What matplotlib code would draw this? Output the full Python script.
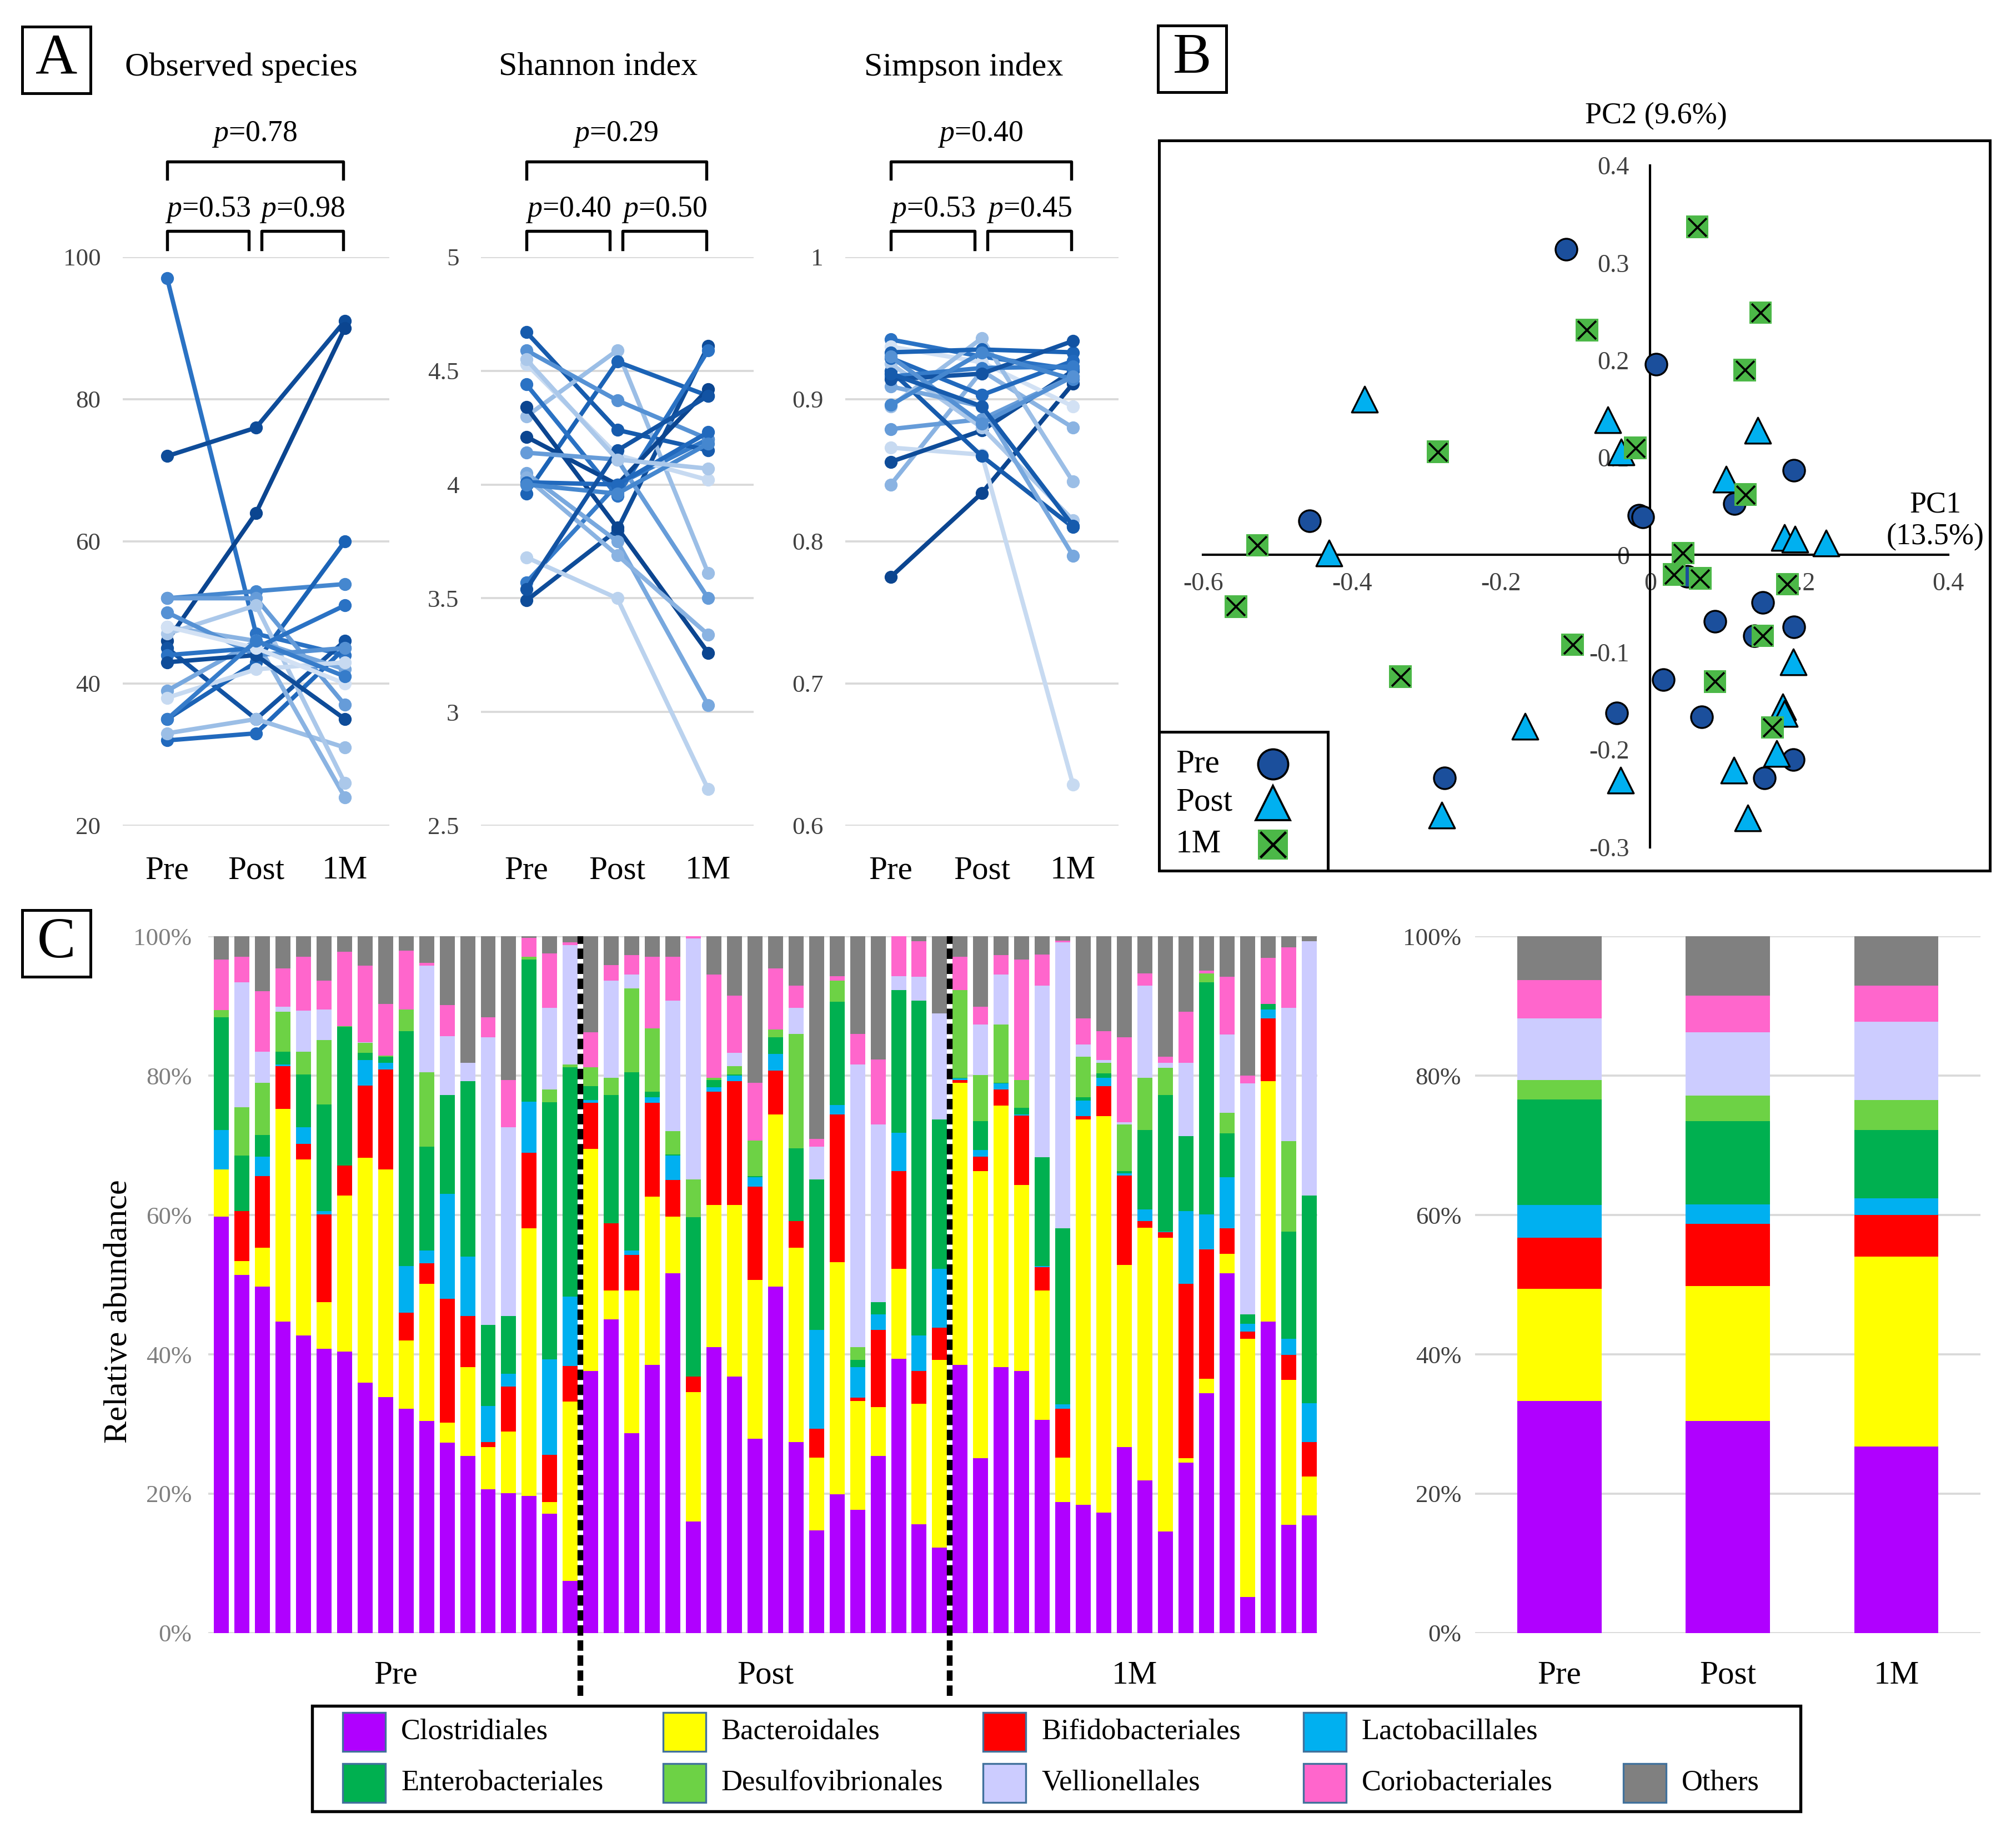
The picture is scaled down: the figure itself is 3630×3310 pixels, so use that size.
import numpy as np
import matplotlib.pyplot as plt
from matplotlib.patches import Rectangle
from matplotlib.transforms import blended_transform_factory as blend

plt.rcParams['font.family'] = ['Liberation Serif', 'DejaVu Serif']
plt.rcParams['mathtext.fontset'] = 'custom'
plt.rcParams['mathtext.rm'] = 'Liberation Serif'
plt.rcParams['mathtext.it'] = 'Liberation Serif:italic'

# ---------------- data ----------------
timepoints = ['Pre', 'Post', '1M']

# panel A: per-subject alpha diversity (Pre, Post, 1M)
obs_pre = [97, 72, 46, 45, 52, 35, 32, 33, 52, 48, 47, 39, 38, 50, 44, 43, 48, 35]
obs_post = [47, 76, 64, 35, 53, 43, 33, 35, 52, 46, 51, 46, 42, 44, 45, 44, 45, 46]
obs_1m = [44, 91, 90, 46, 54, 60, 45, 31, 37, 24, 26, 42, 43, 45, 51, 35, 40, 41]

sha_pre = [3.49, 3.57, 3.68, 4.67, 4.30, 3.96, 4.59, 4.53, 4.44, 4.34, 4.21, 4.05, 4.03, 4.14, 4.01, 4.00, 3.54, 4.55]
sha_post = [3.80, 4.00, 3.50, 4.24, 4.59, 4.54, 4.37, 4.13, 3.95, 3.81, 4.00, 3.75, 3.69, 4.11, 4.00, 3.96, 4.15, 4.11]
sha_1m = [4.61, 4.20, 2.66, 4.15, 3.61, 4.39, 4.20, 4.02, 4.59, 3.26, 4.42, 3.03, 3.34, 3.50, 4.23, 4.18, 4.39, 4.07]

sim_pre = [0.775, 0.840, 0.866, 0.856, 0.879, 0.942, 0.937, 0.920, 0.925, 0.909, 0.895, 0.933, 0.929, 0.916, 0.914, 0.896, 0.930, 0.918]
sim_post = [0.834, 0.920, 0.861, 0.878, 0.886, 0.930, 0.926, 0.860, 0.880, 0.895, 0.943, 0.935, 0.903, 0.922, 0.918, 0.933, 0.883, 0.895]
sim_1m = [0.911, 0.880, 0.629, 0.920, 0.916, 0.921, 0.895, 0.810, 0.815, 0.790, 0.842, 0.933, 0.927, 0.923, 0.941, 0.914, 0.916, 0.811]

obs_p = ['0.53', '0.98', '0.78']
sha_p = ['0.40', '0.50', '0.29']
sim_p = ['0.53', '0.45', '0.40']

# panel B: PCoA coordinates
pre_pc1 = [-0.113, 0.008, 0.193, 0.113, -0.015, -0.457, 0.151, 0.087, 0.193, 0.140, 0.018, -0.045, 0.069, 0.192, 0.153, -0.276, -0.010, 0.050]
pre_pc2 = [0.314, 0.196, 0.087, 0.053, 0.041, 0.035, -0.049, -0.068, -0.074, -0.083, -0.128, -0.162, -0.166, -0.210, -0.229, -0.229, 0.039, -0.022]
post_pc1 = [-0.383, -0.057, -0.039, 0.144, 0.102, -0.431, 0.180, 0.194, 0.236, 0.192, 0.178, 0.180, -0.168, 0.170, -0.040, 0.112, -0.280, 0.131]
post_pc2 = [0.160, 0.139, 0.106, 0.128, 0.078, 0.002, 0.018, 0.016, 0.012, -0.110, -0.156, -0.163, -0.176, -0.204, -0.231, -0.221, -0.267, -0.270]
m1_pc1 = [0.063, 0.148, -0.085, 0.127, -0.020, -0.285, 0.128, -0.527, 0.044, 0.032, 0.067, 0.184, -0.556, 0.151, -0.104, -0.335, 0.087, 0.164]
m1_pc2 = [0.337, 0.249, 0.231, 0.190, 0.110, 0.106, 0.062, 0.010, 0.002, -0.020, -0.024, -0.030, -0.053, -0.083, -0.092, -0.125, -0.130, -0.177]

# panel C: cumulative top (%) of each order per sample (18 Pre, 18 Post, 18 1M)
taxa = ['Clostridiales', 'Bacteroidales', 'Bifidobacteriales', 'Lactobacillales', 'Enterobacteriales',
        'Desulfovibrionales', 'Vellionellales', 'Coriobacteriales', 'Others']
clos_top = [59.8, 51.4, 49.7, 44.7, 42.7, 40.8, 40.4, 35.9, 33.9, 32.2, 30.4, 27.3, 25.4, 20.6, 20.1, 19.7, 17.1, 7.5,
            37.6, 45.0, 28.7, 38.5, 51.6, 16.0, 41.0, 36.8, 27.9, 49.7, 27.4, 14.7, 19.9, 17.7, 25.4, 39.4, 15.6, 12.3,
            38.5, 25.1, 38.2, 37.6, 30.6, 18.8, 18.4, 17.3, 26.7, 21.9, 14.6, 24.5, 34.4, 51.6, 5.2, 44.7, 15.5, 16.9]
bact_top = [66.5, 53.4, 55.3, 75.2, 68.0, 47.5, 62.8, 68.2, 66.5, 42.0, 50.1, 30.2, 38.2, 26.7, 28.9, 58.1, 18.8, 33.2,
            69.5, 49.2, 49.2, 62.6, 59.8, 34.6, 61.4, 61.4, 50.7, 74.4, 55.3, 25.2, 53.2, 33.3, 32.4, 52.3, 32.9, 39.2,
            79.0, 66.3, 75.7, 64.3, 49.2, 25.2, 73.7, 74.2, 52.8, 58.2, 56.7, 25.1, 36.5, 54.4, 42.2, 79.2, 36.3, 22.5]
bifi_top = [66.5, 60.6, 65.6, 81.4, 70.2, 60.1, 67.1, 78.6, 80.9, 46.0, 53.1, 48.0, 45.5, 27.4, 35.4, 68.9, 25.6, 38.3,
            76.1, 58.8, 54.3, 76.1, 65.0, 36.8, 77.7, 79.2, 64.1, 80.7, 59.1, 29.3, 74.4, 33.8, 43.5, 66.3, 37.6, 43.8,
            79.4, 68.4, 78.0, 74.3, 52.5, 32.2, 74.2, 78.5, 65.7, 59.1, 57.5, 50.1, 55.1, 58.1, 43.3, 88.2, 39.9, 27.4]
lacto_top = [72.2, 60.6, 68.4, 81.6, 72.6, 60.6, 67.1, 82.2, 81.8, 52.7, 54.9, 63.0, 54.0, 32.6, 37.2, 76.3, 39.3, 48.3,
             76.5, 58.8, 54.9, 76.9, 68.5, 36.8, 78.3, 80.0, 65.4, 83.1, 59.1, 43.5, 75.8, 38.2, 45.7, 71.8, 42.7, 52.3,
             79.6, 69.3, 78.9, 74.4, 52.7, 32.8, 76.4, 79.7, 66.0, 60.8, 57.6, 60.6, 60.1, 65.4, 44.4, 89.5, 42.2, 33.0]
entero_top = [88.4, 68.5, 71.5, 83.4, 80.2, 75.9, 87.0, 83.3, 82.7, 86.4, 69.8, 77.2, 79.2, 44.2, 45.5, 96.7, 76.2, 81.2,
              78.5, 77.2, 80.5, 77.7, 68.7, 59.7, 79.4, 80.2, 65.6, 85.5, 69.6, 65.1, 90.6, 39.2, 47.5, 92.3, 90.8, 73.7,
              79.7, 73.5, 79.0, 75.4, 68.3, 58.1, 76.9, 80.3, 66.3, 72.2, 77.2, 71.3, 93.4, 71.7, 45.7, 90.3, 57.6, 62.8]
desulfo_top = [89.4, 75.5, 79.0, 89.2, 83.4, 85.1, 87.1, 84.7, 82.9, 89.5, 80.5, 77.2, 79.2, 44.2, 45.5, 97.1, 78.0, 81.6,
               81.2, 79.7, 92.5, 86.8, 72.0, 65.1, 79.7, 81.4, 70.7, 86.6, 86.0, 65.1, 93.6, 41.0, 47.5, 92.3, 90.8, 73.7,
               92.3, 80.1, 87.3, 79.4, 68.3, 58.1, 82.7, 81.8, 73.0, 79.7, 81.1, 71.3, 94.7, 74.7, 45.7, 90.3, 70.6, 62.8]
veillo_top = [89.4, 93.4, 83.4, 89.9, 89.3, 89.5, 87.1, 84.8, 82.9, 89.5, 95.8, 85.7, 81.8, 85.5, 72.6, 97.1, 89.7, 98.7,
              81.2, 93.6, 94.5, 86.8, 90.8, 99.7, 79.7, 83.3, 70.7, 86.6, 89.7, 69.8, 93.6, 81.6, 73.0, 94.3, 94.2, 88.9,
              92.3, 87.3, 94.5, 79.4, 92.9, 99.1, 84.5, 82.2, 73.3, 92.9, 81.8, 81.8, 94.7, 85.9, 78.9, 90.3, 89.7, 99.3]
corio_top = [96.7, 97.1, 92.1, 95.4, 97.1, 93.6, 97.8, 95.8, 90.3, 97.9, 96.2, 90.1, 81.8, 88.4, 79.4, 99.8, 97.5, 99.1,
             86.2, 95.9, 97.3, 97.1, 97.1, 100.0, 94.5, 91.5, 79.0, 95.4, 92.9, 70.9, 94.3, 86.0, 82.3, 100.0, 99.3, 88.9,
             97.1, 89.9, 97.3, 96.7, 97.4, 99.4, 88.2, 86.4, 85.5, 94.7, 82.7, 89.2, 95.1, 94.2, 80.0, 96.9, 98.4, 99.3]

# group means, cumulative tops (%) for Pre, Post, 1M
mean_tops = {
    'Clostridiales': [33.3, 30.4, 26.8],
    'Bacteroidales': [49.4, 49.8, 54.0],
    'Bifidobacteriales': [56.7, 58.7, 60.0],
    'Lactobacillales': [61.4, 61.5, 62.4],
    'Enterobacteriales': [76.6, 73.5, 72.2],
    'Desulfovibrionales': [79.4, 77.1, 76.5],
    'Vellionellales': [88.2, 86.2, 87.7],
    'Coriobacteriales': [93.7, 91.5, 92.9],
}

taxa_colors = ['#B000FF', '#FFFF00', '#FF0000', '#00B0F0', '#00B050', '#6DD245', '#CCCCFF', '#FF66CC', '#808080']
blues = ['#0B4590', '#0E4C99', '#1253A3', '#165BAD', '#1B63B6', '#2169BD', '#2A72C4', '#367CCA', '#4587CF',
         '#5591D4', '#669CD9', '#78A8DE', '#8AB3E2', '#9BBEE6', '#ABC8EA', '#BAD2EE', '#C7DAF1', '#D2E1F4']
obs_c = [6, 1, 0, 2, 8, 4, 5, 13, 10, 12, 14, 11, 16, 9, 6, 1, 17, 7]
sha_c = [1, 7, 15, 3, 13, 4, 9, 16, 6, 0, 0, 11, 12, 10, 5, 8, 2, 14]
sim_c = [0, 12, 16, 1, 10, 6, 17, 3, 14, 11, 13, 4, 5, 7, 2, 8, 9, 3]

W, H = 3630, 3310
fig = plt.figure(figsize=(W / 300, H / 300), dpi=300)


def fr(x0, y0, x1, y1):
    return [x0 / W, 1 - y1 / H, (x1 - x0) / W, (y1 - y0) / H]


def letter_box(x0, y0, letter):
    fig.add_artist(Rectangle((x0 / W, 1 - (y0 + 120) / H), 123 / W, 120 / H,
                             transform=fig.transFigure, fill=False, ec='black', lw=1.2))
    fig.text((x0 + 61.5) / W, 1 - (y0 + 60) / H, letter, fontsize=25, ha='center', va='center')


# ---------------- panel A ----------------
def alpha_panel(rect, pre, post, m1, cidx, ylim, yticks, ylabels, pvals, title, tx):
    ax = fig.add_axes(fr(*rect))
    x3 = np.arange(3)
    for p, q, r, c in zip(pre, post, m1, cidx):
        ax.plot(x3, [p, q, r], '-o', color=blues[c], lw=1.9, ms=4.6, clip_on=False)
    ax.set_xlim(-0.5, 2.5)
    ax.set_ylim(*ylim)
    ax.set_yticks(yticks)
    ax.set_yticklabels(ylabels)
    ax.set_xticks(x3)
    ax.set_xticklabels(timepoints, fontsize=14.2)
    ax.tick_params(axis='x', length=0, pad=13)
    ax.tick_params(axis='y', length=0, pad=9.5, labelsize=10.8, labelcolor='#404040')
    ax.yaxis.grid(True, color='#D9D9D9', lw=0.9)
    ax.set_axisbelow(True)
    for s in ax.spines.values():
        s.set_visible(False)
    tr = blend(ax.transData, ax.transAxes)
    for x0, x1, yh, ye in [(0, 0.92, 1.046, 1.014), (1.06, 1.98, 1.046, 1.014), (0, 1.98, 1.168, 1.138)]:
        ax.plot([x0, x0, x1, x1], [ye, yh, yh, ye], color='black', lw=1.3, transform=tr, clip_on=False)
    ax.text(0.46, 1.083, '$p$=' + pvals[0], transform=tr, ha='center', va='center', fontsize=12.9)
    ax.text(1.52, 1.083, '$p$=' + pvals[1], transform=tr, ha='center', va='center', fontsize=12.9)
    ax.text(0.98, 1.216, '$p$=' + pvals[2], transform=tr, ha='center', va='center', fontsize=12.9)
    fig.text(tx / W, 1 - 122 / H, title, fontsize=14.4, ha='center', va='center')


alpha_panel((221, 463, 701, 1487), obs_pre, obs_post, obs_1m, obs_c, (20, 100),
            [20, 40, 60, 80, 100], ['20', '40', '60', '80', '100'], obs_p, 'Observed species', 434)
alpha_panel((866, 463, 1357, 1487), sha_pre, sha_post, sha_1m, sha_c, (2.5, 5),
            [2.5, 3, 3.5, 4, 4.5, 5], ['2.5', '3', '3.5', '4', '4.5', '5'], sha_p, 'Shannon index', 1077)
alpha_panel((1522, 463, 2014, 1487), sim_pre, sim_post, sim_1m, sim_c, (0.6, 1),
            [0.6, 0.7, 0.8, 0.9, 1], ['0.6', '0.7', '0.8', '0.9', '1'], sim_p, 'Simpson index', 1735)
letter_box(40, 48, 'A')

# ---------------- panel B ----------------
axb = fig.add_axes(fr(2087, 253, 3583, 1568))
pre_col, post_col, m1_col = '#1B4F9C', '#00B0F0', '#4CB848'
axb.scatter(pre_pc1, pre_pc2, s=88, marker='o', c=pre_col, edgecolors='black', linewidths=0.8, zorder=3)
axb.scatter(post_pc1, post_pc2, s=125, marker='^', c=post_col, edgecolors='black', linewidths=0.8, zorder=4)
axb.scatter(m1_pc1, m1_pc2, s=95, marker='s', c=m1_col, edgecolors='none', zorder=5)
axb.scatter(m1_pc1, m1_pc2, s=62, marker='x', c='black', linewidths=0.9, zorder=6)
axb.set_xlim(-0.659, 0.4558)
axb.set_ylim(-0.3242, 0.4257)
axb.spines['left'].set_position(('data', 0))
axb.spines['bottom'].set_position(('data', 0))
axb.spines['left'].set_bounds(-0.3, 0.4)
axb.spines['bottom'].set_bounds(-0.6, 0.4)
axb.spines['top'].set_visible(False)
axb.spines['right'].set_visible(False)
for s in ('left', 'bottom'):
    axb.spines[s].set_linewidth(1.0)
xt = [-0.6, -0.4, -0.2, 0, 0.2, 0.4]
yt = [-0.3, -0.2, -0.1, 0, 0.1, 0.2, 0.3, 0.4]
axb.set_xticks(xt)
axb.set_xticklabels(['-0.6', '-0.4', '-0.2', '0', '0.2', '0.4'])
axb.set_yticks(yt)
axb.set_yticklabels(['-0.3', '-0.2', '-0.1', '0', '0.1', '0.2', '0.3', '0.4'])
axb.tick_params(axis='x', length=0, pad=7.5, labelsize=11, labelcolor='#404040')
axb.tick_params(axis='y', length=0, pad=9, labelsize=11, labelcolor='#404040')
axb.add_patch(Rectangle((0, 0), 1, 1, transform=axb.transAxes, fill=False, ec='black', lw=1.2, clip_on=False))
fig.text(2981.5 / W, 1 - 209 / H, 'PC2 (9.6%)', fontsize=13, ha='center', va='center')
fig.text(3485 / W, 1 - 938 / H, 'PC1\n(13.5%)', fontsize=13, ha='center', va='center', linespacing=1.2)

# legend box of panel B: labels left-aligned, keys in a column on the right
axb.add_patch(Rectangle((0, 0), 0.2032, 0.190, transform=axb.transAxes, fc='white', ec='black',
                        lw=1.2, clip_on=False, zorder=8))
key_y = [0.146, 0.0928, 0.0357]
key_style = [dict(marker='o', ms=13, mfc=pre_col, mec='black', mew=0.9),
             dict(marker='^', ms=15, mfc=post_col, mec='black', mew=0.9),
             dict(marker='s', ms=13, mfc=m1_col, mec='none')]
for lab, yk, st in zip(timepoints, key_y, key_style):
    axb.text(0.020, yk, lab, transform=axb.transAxes, fontsize=14.2, ha='left', va='center', zorder=9)
    axb.plot([0.137], [yk], ls='', transform=axb.transAxes, clip_on=False, zorder=9, **st)
axb.plot([0.137], [key_y[2]], ls='', marker='x', ms=11, mec='black', mew=1.1,
         transform=axb.transAxes, clip_on=False, zorder=10)
letter_box(2085, 46, 'B')

# ---------------- panel C ----------------
tops_list = [clos_top, bact_top, bifi_top, lacto_top, entero_top, desulfo_top, veillo_top, corio_top]
tops = np.vstack([np.zeros(len(clos_top))] + [np.array(t) for t in tops_list] + [np.full(len(clos_top), 100.0)])
heights = np.clip(np.diff(tops, axis=0), 0, None)

axc = fig.add_axes([0.1032, 0.1115, 0.5502, 0.3791])
xs = np.arange(len(clos_top))
for k, col in enumerate(taxa_colors):
    axc.bar(xs, heights[k], bottom=tops[k], width=0.73, color=col, linewidth=0)
axc.set_xlim(-0.65, 53.4)
axc.set_ylim(0, 100)
axc.set_yticks(range(0, 101, 20))
axc.set_yticklabels([f'{v}%' for v in range(0, 101, 20)])
axc.set_xticks([8.5, 26.5, 44.5])
axc.set_xticklabels(timepoints, fontsize=14.2)
axc.tick_params(axis='x', length=0, pad=12)
axc.tick_params(axis='y', length=0, pad=7, labelsize=10.8, labelcolor='#7F7F7F')
axc.yaxis.grid(True, color='#D9D9D9', lw=0.9)
axc.set_axisbelow(True)
for s in axc.spines.values():
    s.set_visible(False)
for xd in (17.5, 35.5):
    axc.plot([xd, xd], [-9, 100], color='black', lw=2.5, ls=(0, (1.8, 0.8)), clip_on=False, zorder=5)
fig.text(214 / W, 1 - 2362 / H, 'Relative abundance', rotation=90, fontsize=14.5, ha='center', va='center')

axr = fig.add_axes([0.7317, 0.1115, 0.2507, 0.3791])
mt = np.vstack([np.zeros(3)] + [np.array(mean_tops[t]) for t in taxa[:-1]] + [np.full(3, 100.0)])
mh = np.diff(mt, axis=0)
for k, col in enumerate(taxa_colors):
    axr.bar(np.arange(3), mh[k], bottom=mt[k], width=0.5, color=col, linewidth=0)
axr.set_xlim(-0.5, 2.5)
axr.set_ylim(0, 100)
axr.set_yticks(range(0, 101, 20))
axr.set_yticklabels([f'{v}%' for v in range(0, 101, 20)])
axr.set_xticks(np.arange(3))
axr.set_xticklabels(timepoints, fontsize=14.2)
axr.tick_params(axis='x', length=0, pad=12)
axr.tick_params(axis='y', length=0, pad=6, labelsize=10.8, labelcolor='#404040')
axr.yaxis.grid(True, color='#D9D9D9', lw=0.9)
axr.set_axisbelow(True)
for s in axr.spines.values():
    s.set_visible(False)
letter_box(40, 1639, 'C')

# legend for panel C (two rows, uniform columns)
fig.add_artist(Rectangle((562 / W, 1 - 3262 / H), (3242 - 562) / W, (3262 - 3072) / H,
                         transform=fig.transFigure, fill=False, ec='black', lw=1.3))
for i, (name, col) in enumerate(zip(taxa, taxa_colors)):
    row, c = (0, i) if i < 4 else (1, i - 4)
    x0 = 617 + c * 576.5
    yc = 3119 + row * 92
    fig.add_artist(Rectangle((x0 / W, 1 - (yc + 35) / H), 77 / W, 70 / H, transform=fig.transFigure,
                             fc=col, ec='#41719C', lw=0.8))
    fig.text((x0 + 105) / W, 1 - yc / H, name, fontsize=12.6, ha='left', va='center')

fig.savefig('out.png', dpi=300)
